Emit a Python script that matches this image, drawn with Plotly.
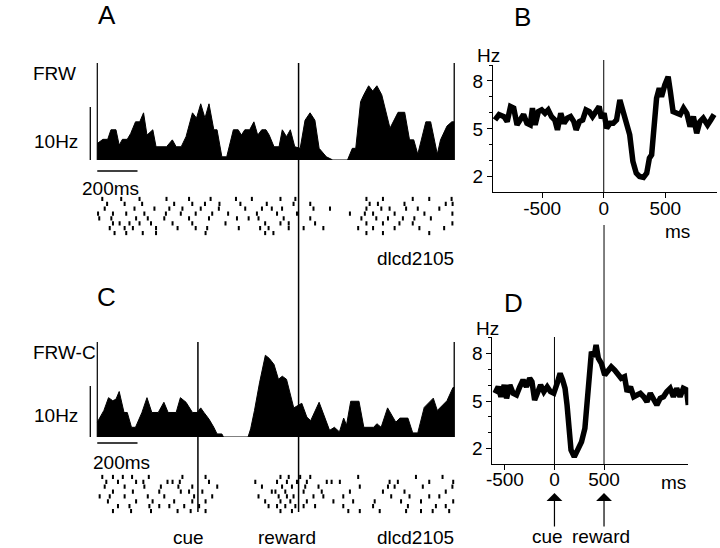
import plotly.graph_objects as go

W, H = 720, 548
FONT = "Liberation Sans, Arial, Helvetica, sans-serif"


def px(x):
    return x / W


def py(y):
    return 1 - y / H


# analysis window of the histograms (ms from reward)
win = [-1000, 773]

# A: FRW histogram (ms from reward, Hz)
a_t = [-1000, -972, -948, -932, -907, -891, -875, -851, -834, -810, -789, -770, -753, -724,
       -708, -656, -627, -608, -583, -559, -527, -507, -486, -465, -445, -421, -405, -381,
       -357, -324, -300, -284, -267, -243, -222, -203, -183, -162, -146, -122, -97, -81,
       -60, -41, -19, 8, 32, 57, 81, 102, 138, 170, 243, 267, 284, 308, 324, 348, 368,
       389, 413, 433, 454, 494, 527, 551, 572, 592, 632, 656, 689, 705, 737, 761, 773]
a_hz = [3.1, 3.9, 3.9, 5.7, 5.7, 2.8, 3.9, 3.9, 5.0, 7.2, 7.2, 8.9, 4.7, 5.7,
        2.5, 2.5, 3.8, 2.5, 2.5, 4.4, 8.9, 7.9, 10.6, 7.9, 10.6, 5.7, 5.7, 0.6,
        0.6, 5.7, 5.7, 4.7, 5.7, 5.7, 7.2, 4.7, 5.7, 5.7, 4.7, 2.5, 2.5, 5.7,
        4.4, 5.7, 2.5, 2.2, 7.5, 8.9, 7.5, 2.2, 0.6, 0.0, 0.0, 2.2, 2.2, 11.0, 12.3, 14.0, 13.0,
        14.0, 12.3, 9.4, 6.0, 9.0, 9.0, 3.8, 3.8, 1.1, 7.2, 7.2, 1.1, 3.8, 6.4, 7.2, 7.2]

# A: raster, one list of spike times (ms) per trial
a_raster = [
    [-975, -881, -790, -656, -544, -437, -311, -232, -90, -16, 337, 419, 567, 649, 760],
    [-951, -864, -777, -618, -528, -465, -393, -289, -158, -25, 58, 353, 394, 526, 731, 765],
    [-963, -815, -716, -642, -577, -486, -396, -265, -182, -133, -82, 74, 156, 337, 411, 452, 534, 592, 699],
    [-996, -922, -856, -766, -659, -585, -511, -429, -350, -207, -107, -8, 255, 329, 370, 477, 625, 764],
    [-990, -930, -807, -749, -667, -544, -445, -306, -248, -199, -74, 58, 312, 386, 444, 518, 575, 657],
    [-922, -889, -840, -790, -733, -626, -528, -363, -166, -90, -49, 82, 337, 419, 501, 567, 764],
    [-938, -864, -823, -708, -601, -511, -454, -297, -191, -149, -49, 25, 123, 296, 370, 477, 600, 723],
    [-914, -856, -774, -708, -462, -166, -125, 337, 419, 649],
]

# C: FRW-C histogram (ms from reward, Hz)
c_t = [-1000, -967, -944, -923, -907, -891, -867, -851, -830, -810, -778, -753, -729, -697,
       -669, -648, -608, -587, -559, -527, -503, -486, -470, -445, -421, -405, -381, -373,
       -251, -238, -219, -194, -165, -146, -122, -100, -81, -60, -24, -8, 16, 41, 60, 102,
       122, 154, 178, 203, 224, 238, 259, 300, 324, 373, 389, 410, 442, 483, 503, 543, 567,
       592, 624, 669, 689, 737, 767, 773]
c_hz = [2.9, 5.2, 7.7, 7.1, 7.4, 8.9, 4.8, 4.8, 1.9, 1.9, 4.8, 7.7, 4.8, 4.8,
        6.8, 4.8, 4.8, 7.7, 6.8, 4.8, 4.8, 5.7, 4.8, 3.5, 1.9, 0.6, 0.6, 0.0,
        0.0, 1.6, 5.2, 10.6, 16.0, 15.4, 14.2, 11.3, 11.9, 11.3, 5.7, 6.0, 6.6, 3.9, 3.2, 6.8,
        4.8, 1.3, 1.9, 1.0, 3.7, 2.3, 7.0, 7.0, 1.9, 1.9, 2.6, 1.9, 5.7, 2.9, 3.7, 3.7, 0.8,
        0.8, 5.8, 7.6, 5.2, 7.1, 9.7, 9.7]

c_raster = [
    [-975, -922, -873, -827, -744, -577, -462, -90, -49, 8, 58, 296, 583, 715],
    [-955, -897, -807, -771, -651, -626, -590, -445, -215, -107, -58, -8, 41, 140, 164, 205, 452, 493, 649, 768],
    [-963, -864, -766, -684, -597, -528, -404, -182, -82, -33, 33, 99, 304, 444, 477, 617, 764],
    [-922, -823, -692, -585, -544, -478, -133, -115, -66, 25, 115, 255, 419, 526, 731],
    [-988, -938, -864, -749, -667, -519, -429, -199, -99, -58, -25, 74, 123, 222, 460, 551, 649, 699],
    [-947, -807, -725, -618, -528, -462, -166, -90, -41, 41, 173, 271, 378, 509, 608, 768],
    [-897, -840, -741, -692, -642, -568, -494, -149, -107, -66, -16, 25, 82, 222, 370, 543, 682, 731],
    [-922, -832, -733, -601, -536, -462, -90, -33, 247, 304, 403, 534, 608, 666, 748],
]

# B: population average FRW (ms from reward, Hz)
b_t = [-883, -850, -810, -784, -757, -731, -704, -677, -651, -624, -597, -579, -557, -531,
       -504, -477, -451, -424, -397, -376, -349, -323, -296, -269, -243, -224, -197, -171,
       -144, -117, -91, -64, -37, -19, 3, 24, 51, 77, 104, 131, 157, 184, 211, 237, 264,
       291, 323, 349, 371, 389, 408, 429, 451, 469, 496, 523, 541, 563, 595, 621, 648,
       675, 701, 728, 755, 781, 808, 843, 869, 896]
b_hz = [5.56, 5.9, 5.77, 5.46, 6.4, 6.3, 5.25, 5.56, 5.9, 5.35, 5.25, 6.3, 5.25, 6.08,
        6.19, 5.98, 6.19, 5.77, 5.56, 4.94, 5.98, 5.35, 5.67, 5.77, 5.46, 4.94, 5.46, 5.56,
        6.19, 6.08, 5.77, 6.08, 6.4, 5.67, 5.98, 5.04, 5.35, 5.35, 5.56, 6.81, 6.08, 5.46, 4.63, 2.96, 2.23,
        2.02, 1.96, 2.23, 3.17, 3.38, 5.46, 6.92, 7.54, 7.02, 7.75, 8.27, 7.33, 6.08, 5.98, 5.9, 6.3,
        5.98, 5.14, 5.77, 4.73, 5.46, 5.67, 5.25, 5.56, 5.9]

# D: population average FRW-C (ms from cue, Hz)
d_t = [-600, -567, -540, -507, -483, -450, -417, -383, -350, -317, -283, -250, -227, -200,
       -173, -140, -107, -73, -40, -7, 27, 57, 83, 107, 127, 147, 167, 200, 233, 273, 307,
       327, 350, 373, 400, 420, 443, 473, 507, 540, 573, 607, 640, 673, 707, 733, 767, 800,
       833, 867, 900, 933, 967, 1000, 1033, 1067, 1100, 1133, 1167, 1200, 1233, 1267, 1300,
       1333, 1350]
d_hz = [5.49, 5.9, 5.27, 6.01, 5.17, 6.01, 5.49, 5.38, 5.9, 6.33, 5.9, 6.44, 6.22, 5.06,
        5.49, 6.01, 5.59, 5.9, 5.59, 5.49, 6.12, 6.75, 6.33, 5.8, 4.75, 3.27, 1.9, 1.47, 1.9, 2.42, 3.27,
        5.06, 6.96, 8.12, 7.8, 8.54, 7.7, 7.39, 6.65, 6.96, 7.17, 6.96, 6.65, 6.44, 6.54, 5.59, 5.9, 5.27,
        5.38, 5.49, 5.27, 4.96, 5.49, 5.06, 4.75, 5.17, 5.27, 5.59, 5.8, 5.27, 5.8, 5.27, 5.8,
        5.7, 4.75]

hz_ticks = [2, 5, 8]
hz_minor = [3, 4, 6, 7, 9]
ms_ticks = [-500, 0, 500]
ms_labels = ["-500", "0", "500"]


def flatten(rows):
    xs, ys = [], []
    for i, r in enumerate(rows):
        xs += r
        ys += [i] * len(r)
    return xs, ys


fig = go.Figure()

fig.add_trace(go.Scatter(x=a_t, y=a_hz, mode="lines", fill="tozeroy", fillcolor="black",
                         line=dict(color="black", width=1), xaxis="x", yaxis="y"))
fig.add_trace(go.Scatter(x=b_t, y=b_hz, mode="lines", line=dict(color="black", width=5.5),
                         xaxis="x2", yaxis="y2"))
fig.add_trace(go.Scatter(x=c_t, y=c_hz, mode="lines", fill="tozeroy", fillcolor="black",
                         line=dict(color="black", width=1), xaxis="x3", yaxis="y3"))
fig.add_trace(go.Scatter(x=d_t, y=d_hz, mode="lines", line=dict(color="black", width=5.5),
                         xaxis="x4", yaxis="y4"))

for rows, xa, ya in [(a_raster, "x5", "y5"), (c_raster, "x6", "y6")]:
    xs, ys = flatten(rows)
    fig.add_trace(go.Scatter(x=xs, y=ys, mode="markers", xaxis=xa, yaxis=ya,
                             marker=dict(symbol="line-ns", size=3, color="black",
                                         line=dict(color="black", width=2))))

hist_x = dict(domain=[px(91), px(453)], range=[win[0] - 5, win[1] + 5], visible=False)
plot_ax = dict(showline=True, linecolor="black", linewidth=1, ticks="outside", ticklen=5,
               tickcolor="black", showgrid=False, zeroline=False, tickfont=dict(size=19))

fig.update_layout(
    width=W, height=H,
    margin=dict(l=0, r=0, t=0, b=0),
    paper_bgcolor="white", plot_bgcolor="white",
    showlegend=False,
    font=dict(family=FONT, size=19, color="black"),
    xaxis=dict(hist_x, anchor="y"),
    yaxis=dict(domain=[py(160), py(63)], range=[0, 18.3], visible=False, anchor="x"),
    xaxis3=dict(hist_x, anchor="y3"),
    yaxis3=dict(domain=[py(437), py(342)], range=[0, 18.6], visible=False, anchor="x3"),
    xaxis5=dict(hist_x, anchor="y5"),
    yaxis5=dict(domain=[py(235.5), py(196.5)], range=[7.5, -0.5], visible=False, anchor="x5"),
    xaxis6=dict(hist_x, anchor="y6"),
    yaxis6=dict(domain=[py(513.5), py(474.5)], range=[7.5, -0.5], visible=False, anchor="x6"),
    xaxis2=dict(plot_ax, domain=[px(491), px(717)], range=[-900, 920], anchor="y2",
                tickvals=ms_ticks, ticktext=ms_labels, ticklabelstandoff=-6),
    yaxis2=dict(plot_ax, domain=[py(192), py(65)], range=[1.05, 9.0], anchor="x2",
                tickvals=hz_ticks,
                minor=dict(tickvals=hz_minor, ticks="outside", ticklen=3, tickcolor="black")),
    xaxis4=dict(plot_ax, domain=[px(490.5), px(688)], range=[-626, 1350], anchor="y4",
                tickvals=ms_ticks, ticktext=ms_labels, ticklabelstandoff=-6),
    yaxis4=dict(plot_ax, domain=[py(463.5), py(337)], range=[1.05, 9.05], anchor="x4",
                tickvals=hz_ticks,
                minor=dict(tickvals=hz_minor, ticks="outside", ticklen=3, tickcolor="black")),
)

ln = dict(color="black", width=1.3)
shapes = []


def vline(xref, x, y0, y1, width=1.3):
    shapes.append(dict(type="line", xref=xref, yref="paper", x0=x, x1=x,
                       y0=py(y0), y1=py(y1), line=dict(color="black", width=width)))


# window borders and event lines
vline("x", win[0], 160, 63)
vline("x", win[1], 160, 63)
vline("x", 0, 512, 63, 1.5)
vline("x3", win[0], 437, 342)
vline("x3", win[1], 437, 342)
vline("x3", -500, 512, 342, 1.5)
vline("x2", 0, 193, 60, 1)
vline("x4", 0, 464, 337, 1)
vline("x4", 500, 464, 225, 1)

# 10 Hz scale bars
for yref in ["y", "y3"]:
    shapes.append(dict(type="line", xref="paper", yref=yref, x0=px(85), x1=px(85),
                       y0=0, y1=10, line=ln))
# 200 ms scale bars
for xref, yy in [("x", 171), ("x3", 443)]:
    shapes.append(dict(type="line", xref=xref, yref="paper", x0=win[0], x1=win[0] + 200,
                       y0=py(yy), y1=py(yy), line=ln))

fig.update_layout(shapes=shapes)


def label(text, x, y, size=19, xanchor="left"):
    return dict(text=text, x=px(x), y=py(y), xref="paper", yref="paper", showarrow=False,
                xanchor=xanchor, yanchor="middle", font=dict(size=size))


annotations = [
    label("A", 91, 15, 26),
    label("B", 510, 17, 26),
    label("C", 90, 297, 26),
    label("D", 500, 303, 26),
    label("FRW", 25, 73),
    label("10Hz", 26, 141),
    label("200ms", 75, 188),
    label("dlcd2105", 454, 258, xanchor="right"),
    label("FRW-C", 25, 352),
    label("10Hz", 26, 415),
    label("200ms", 86, 462),
    label("cue", 184, 537, xanchor="center"),
    label("reward", 283, 537, xanchor="center"),
    label("dlcd2105", 454, 537, xanchor="right"),
    label("Hz", 473, 55),
    label("ms", 677, 231, xanchor="center"),
    label("Hz", 472, 328),
    label("ms", 673, 482, xanchor="center"),
    label("cue", 546, 536, xanchor="center"),
    label("reward", 600, 536, xanchor="center"),
]
for x in [0, 500]:
    annotations.append(dict(x=x, xref="x4", y=py(493), yref="paper", text="", showarrow=True,
                            ax=0, ay=35, arrowhead=1, arrowsize=2.2, arrowwidth=1.2,
                            arrowcolor="black", standoff=0))
fig.update_layout(annotations=annotations)

# drop the default page margin so the figure sits at the window's top-left corner
fig.write_html("out.html", config={"displayModeBar": False},
               post_script="document.body.style.margin='0px';")
